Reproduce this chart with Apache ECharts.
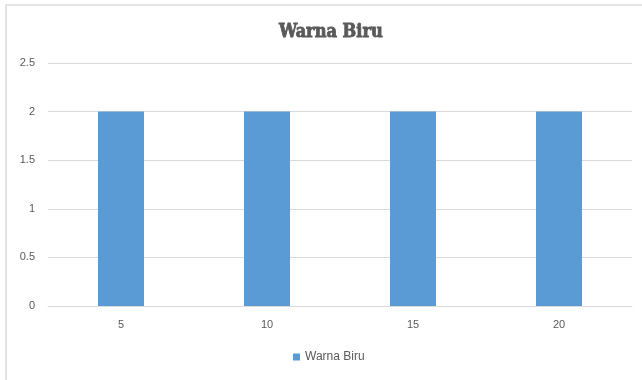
<!DOCTYPE html>
<html>
<head>
<meta charset="utf-8">
<script src="https://cdn.jsdelivr.net/npm/echarts@6/dist/echarts.min.js"></script>
<style>
  html, body { margin: 0; padding: 0; background: #fff; }
  #frame { position: absolute; left: 5px; top: 4px; width: 637px; height: 376px;
           border-left: 2px solid #e4e4e4; border-top: 2px solid #e4e4e4; box-sizing: border-box; }
  #chart { position: absolute; left: 0; top: 0; width: 642px; height: 380px; }
</style>
</head>
<body>
<div id="frame"></div>
<div id="chart"></div>
<script>
// Chart data
const titleText = 'Warna Biru';
const categories = ['5', '10', '15', '20'];
const seriesName = 'Warna Biru';
const values = [2, 2, 2, 2];
const yTicks = { min: 0, max: 2.5, interval: 0.5 };

const chart = echarts.init(document.getElementById('chart'), null, { renderer: 'canvas' });
chart.setOption({
  backgroundColor: 'transparent',
  animation: false,
  title: {
    text: titleText,
    left: 274,
    top: 18,
    textStyle: {
      fontFamily: 'DejaVu Serif Condensed',
      fontWeight: 'bold',
      fontSize: 18,
      color: '#595959',
      textBorderColor: '#595959',
      textBorderWidth: 0.8
    }
  },
  legend: {
    top: 346,
    left: 288,
    itemWidth: 7,
    itemHeight: 7,
    icon: 'rect',
    itemGap: 4,
    textStyle: { fontFamily: 'Liberation Sans', fontSize: 12, color: '#595959' },
    data: [seriesName]
  },
  grid: { left: 48, right: 10, top: 63, bottom: 74 },
  xAxis: {
    type: 'category',
    data: categories,
    axisLine: { lineStyle: { color: '#d9d9d9', width: 1 } },
    axisTick: { show: false },
    axisLabel: { color: '#595959', fontFamily: 'Liberation Sans', fontSize: 11, margin: 13 }
  },
  yAxis: {
    type: 'value',
    min: yTicks.min,
    max: yTicks.max,
    interval: yTicks.interval,
    axisLine: { show: false },
    axisTick: { show: false },
    splitLine: { lineStyle: { color: '#d9d9d9', width: 1 } },
    axisLabel: { color: '#595959', fontFamily: 'Liberation Sans', fontSize: 11, margin: 13 }
  },
  series: [{
    name: seriesName,
    type: 'bar',
    data: values,
    barWidth: '31.5%',
    itemStyle: { color: '#5b9bd5' }
  }]
});
</script>
</body>
</html>
